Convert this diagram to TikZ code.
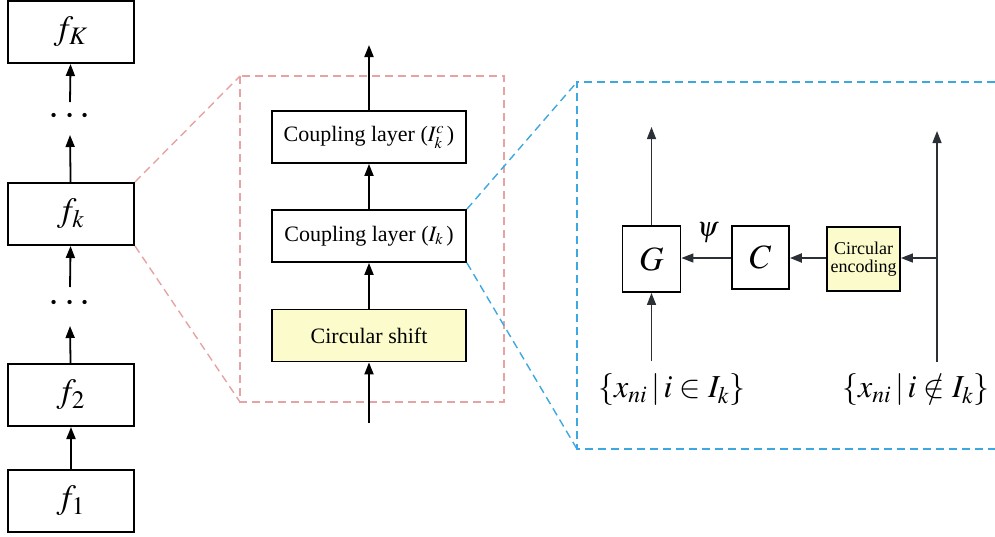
\documentclass[tikz,border=0pt]{standalone}
\usepackage{mathptmx}
\usepackage{fontspec}
\setmainfont{Liberation Serif}
\usetikzlibrary{arrows.meta}
\definecolor{shiftyellow}{HTML}{FBFBCB}
\definecolor{zoomred}{HTML}{E6A3A3}
\definecolor{zoomblue}{HTML}{3DA8E0}
\definecolor{darkline}{HTML}{2B2F36}
\begin{document}
\begin{tikzpicture}[x=0.5pt,y=-0.5pt,
  blk/.style={draw,line width=1pt,inner sep=0pt,minimum width=63pt,minimum height=31pt,font=\fontsize{17}{19}\selectfont},
  cpl/.style={draw,line width=0.9pt,inner sep=0pt,minimum width=97pt,minimum height=26pt,font=\fontsize{11}{13}\selectfont},
  sq/.style={draw,line width=0.9pt,inner sep=0pt,minimum width=29pt,minimum height=33pt,font=\fontsize{17}{19}\selectfont},
  arr/.style={-{Triangle[length=6pt,width=4.5pt]},line width=0.9pt},
  thin arr/.style={-{Triangle[length=6pt,width=4.5pt]},line width=0.7pt,draw=darkline},
  zoomline/.style={dashed,dash pattern=on 4pt off 2.5pt,line width=0.7pt}]
\useasboundingbox (0,0) rectangle (995,536);
% left column
\foreach \n/\y/\t in {fK/32/f_K,fk/214/f_k,ftwo/395/f_2,fone/501/f_1}
  \node[blk] (\n) at (71,\y) {$\t$};
\node[font=\fontsize{20}{22}\selectfont] (dotsa) at (70,117) {$\cdots$};
\node[font=\fontsize{20}{22}\selectfont] (dotsb) at (70,304) {$\cdots$};
\coordinate (ta) at (70,102); \coordinate (tb) at (70,135);
\coordinate (tc) at (70,287); \coordinate (td) at (70,326);
\draw[arr] (ta) -- (fK);
\draw[arr] (fk) -- (tb);
\draw[arr] (tc) -- (fk);
\draw[arr] (ftwo) -- (td);
\draw[arr] (fone) -- (ftwo);
% coupling block
\draw[zoomline,zoomred] (240,76) rectangle (504,402);
\draw[zoomline,zoomred] (fk.north east) -- (240,76);
\draw[zoomline,zoomred] (fk.south east) -- (240,402);
\node[cpl] (cpc) at (369,137) {Coupling layer ($I_k^c\,$)};
\node[cpl] (cpk) at (369,236) {Coupling layer ($I_k\,$)};
\node[cpl,fill=shiftyellow] (shift) at (369,335.5) {Circular shift};
\coordinate (out) at (369,45); \coordinate (in) at (369,423);
\draw[arr] (cpc) -- (out);
\draw[arr] (cpk) -- (cpc);
\draw[arr] (shift) -- (cpk);
\draw[arr] (in) -- (shift);
% coupling layer detail
\draw[zoomline,zoomblue] (995,82) -- (577,82) -- (577,449) -- (995,449);
\draw[zoomline,zoomblue] (cpk.north east) -- (577,82);
\draw[zoomline,zoomblue] (cpk.south east) -- (577,449);
\node[sq] (G) at (651.5,259) {$G$};
\node[sq,minimum width=28.5pt,minimum height=31.5pt] (C) at (760.5,257.5) {$C$};
\node[sq,fill=shiftyellow,minimum width=36.5pt,minimum height=32pt,font=\fontsize{9}{10}\selectfont,align=center] (enc) at (863.5,259) {Circular\\[-1pt]encoding};
\node[font=\fontsize{14}{16}\selectfont] (psi) at (708,233) {$\psi$};
\node[font=\fontsize{16}{18}\selectfont] (xin) at (672,390) {$\{x_{ni}\,|\,i\in I_k\}$};
\node[font=\fontsize{16}{18}\selectfont] (xout) at (916,390) {$\{x_{ni}\,|\,i\notin I_k\}$};
\coordinate (gout) at (651.5,127); \coordinate (gin) at (651.5,361);
\coordinate (rbot) at (937,362); \coordinate (rtop) at (937,131); \coordinate (rmid) at (937,258);
\draw[thin arr] (G) -- (gout);
\draw[thin arr] (gin) -- (G);
\draw[thin arr] (rbot) -- (rtop);
\draw[thin arr] (rmid) -- (enc.east |- rmid);
\draw[thin arr,line width=1.1pt] (enc.west |- rmid) -- (C.east |- rmid);
\draw[thin arr] (C.west |- rmid) -- (G.east |- rmid);
\end{tikzpicture}
\end{document}
